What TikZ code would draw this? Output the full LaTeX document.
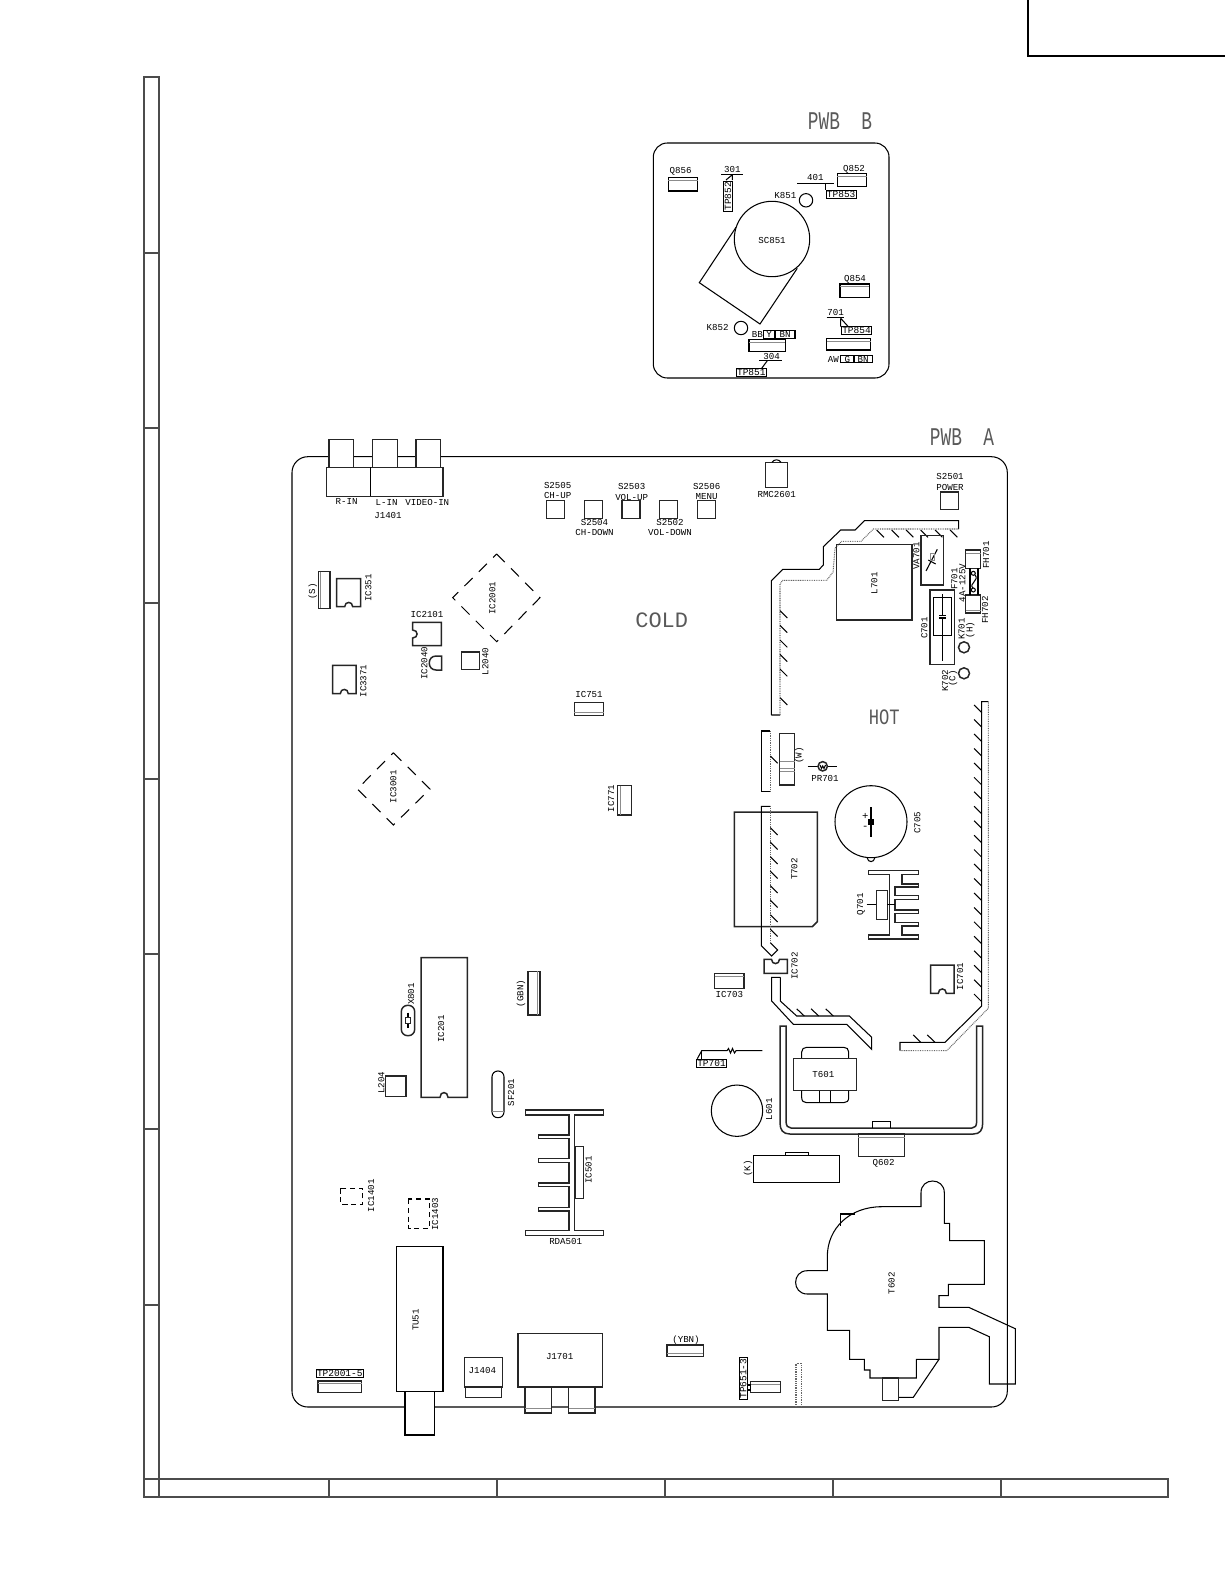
\documentclass[tikz,border=0pt]{standalone}
\usepackage{fontspec}
\setmonofont{Liberation Mono}
\tikzset{
	sheetline/.style={line width=0.65pt,black!70},
	part/.style={line width=0.6pt,black},
	heavy/.style={line width=0.85pt,black!85},
	trace/.style={line width=0.6pt,black},
	inner/.style={line width=0.4pt,black!45},
	dots/.style={line width=0.6pt,black!60,dash pattern=on 0.5pt off 0.5pt},
	hole/.style={line width=0.6pt,black,dash pattern=on 6.5pt off 5pt},
	smallhole/.style={line width=0.6pt,black,dash pattern=on 3pt off 2pt},
	lbl/.style={inner sep=0pt,font=\ttfamily\fontsize{5.2}{6}\selectfont},
	vlbl/.style={lbl,rotate=90},
	tag/.style={draw,line width=0.6pt,inner sep=0.5pt,font=\ttfamily\fontsize{5.4}{6}\selectfont},
	area/.style={inner sep=0pt,black!65,font=\ttfamily\fontsize{12.5}{13}\selectfont},
	title/.style={inner sep=0pt,black!65,font=\ttfamily\fontsize{14.5}{15}\selectfont},
	sign/.style={inner sep=0pt,font=\ttfamily\fontsize{6}{6}\selectfont}
}
\begin{document}
\begin{tikzpicture}[x=0.02cm,y=-0.02cm]
	\useasboundingbox (0,0) rectangle (1225,1585);
	% sheet frame
	\draw[line width=1pt] (1028,0) -- (1028,56) -- (1225,56);
	\draw[sheetline] (144,77) -- (159,77) -- (159,1497) -- (144,1497) -- cycle;
	\draw[sheetline] (144,1479) -- (1168,1479) -- (1168,1497) -- (159,1497);
	\foreach \y in {253,428,603,779,954,1129,1305} \draw[sheetline] (144,\y) -- (159,\y);
	\foreach \x in {329,497,665,833,1001} \draw[sheetline] (\x,1479) -- (\x,1496);

	% PWB B
	\node[title] (pwbb) at (840,121) {\scalebox{.7}[1]{PWB~~B}};
	\draw[part,rounded corners=8pt] (653.3,143) rectangle (889,378);
	\node[lbl] (q856) at (680.7,171.7) {Q856};
	\draw[part] (668.3,177.7) rectangle (697.7,191);
	\draw[inner] (668.3,180) -- (697.7,180);
	\node[lbl] (l301) at (732.3,169) {301};
	\draw[part] (721,174.7) -- (743.3,174.7);
	\draw[part] (732.3,174.7) -- (726,180) (732.3,174.7) -- (732.3,180);
	\node[tag,rotate=90] (tp852) at (728,196.3) {TP852};
	\node[lbl] (l401) at (815.3,177.3) {401};
	\draw[part] (797.3,183.3) -- (834,183.3);
	\draw[part] (825.7,183.3) -- (825.7,190);
	\node[tag] (tp853) at (841.2,194.5) {TP853};
	\node[lbl] (q852) at (854,169) {Q852};
	\draw[part] (837.3,173.3) rectangle (866.7,186.7);
	\draw[inner] (837.3,176) -- (866.7,176);
	\node[lbl] (k851) at (785.3,195.7) {K851};
	\draw[part] (806,200.3) circle[radius=6.7];
	\draw[part] (736,227.3) -- (699.3,282.7) -- (760,324) -- (797.3,268.3);
	\draw[part,fill=white] (772,239) circle[radius=37.7];
	\node[lbl] (sc851) at (772,240) {SC851};
	\node[lbl] (k852) at (717.7,327.3) {K852};
	\draw[part] (741,328) circle[radius=6.7];
	\node[lbl] (bb) at (757.3,334.3) {BB};
	\draw[part] (763.3,330.7) rectangle (775,338.3) (775,330.7) rectangle (795,338.3);
	\node[lbl] (by) at (769.2,334.5) {Y};
	\node[lbl] (bbn) at (785,334.5) {BN};
	\draw[part] (749,339.3) rectangle (785.3,351.3);
	\draw[inner] (749,342) -- (785.3,342);
	\node[lbl] (l304) at (771.7,356.7) {304};
	\draw[part] (759.3,360.7) -- (781.7,360.7);
	\draw[part] (767.3,360.7) -- (761.7,368.3);
	\node[tag] (tp851) at (751.3,372.5) {TP851};
	\node[lbl] (q854) at (855,279.3) {Q854};
	\draw[part] (840,284) rectangle (869.3,297.3);
	\draw[inner] (840,286) -- (869.3,286);
	\node[lbl] (l701) at (835.7,312) {701};
	\draw[part] (826.7,317.3) -- (844,317.3);
	\draw[part] (840.7,318.3) -- (840.7,326.7) (840.7,318.3) -- (848.3,326.7);
	\node[tag] (tp854) at (856.5,330.5) {TP854};
	\draw[part] (826.7,338.7) rectangle (870.7,350);
	\draw[inner] (826.7,341) -- (870.7,341);
	\node[lbl] (aw) at (833.3,359) {AW};
	\draw[part] (840.7,355.3) rectangle (854,362.7) (854,355.3) rectangle (872.3,362.7);
	\node[lbl] (ag) at (847.3,359) {G};
	\node[lbl] (abn) at (863,359) {BN};

	% PWB A
	\node[title] (pwba) at (962,437) {\scalebox{.7}[1]{PWB~~A}};
	\draw[part,rounded corners=9pt] (292,456.7) rectangle (1007.3,1407);
	% J1401
	\draw[heavy,fill=white] (329,439.3) rectangle (353.3,467.3) (372.3,439.3) rectangle (397.3,467.3) (416,439.3) rectangle (440.7,467.3);
	\draw[heavy,fill=white] (326.7,467.3) rectangle (443,496.3);
	\draw[part] (370.3,467.3) -- (370.3,496.3);
	\node[lbl] (rin) at (346.7,501.7) {R-IN};
	\node[lbl] (lin) at (386.7,502) {L-IN};
	\node[lbl] (vin) at (427.3,502) {VIDEO-IN};
	\node[lbl] (j1401) at (388,515.3) {J1401};
	% switches
	\foreach \x in {546.7,584.3,622,659.7,697.3} \draw[heavy] (\x,500.7) rectangle +(18,17.6);
	\node[lbl,align=center] (s2505) at (557.7,490.7) {S2505\\CH-UP};
	\node[lbl,align=center] (s2504) at (594.5,527.3) {S2504\\CH-DOWN};
	\node[lbl,align=center] (s2503) at (631.7,492) {S2503\\VOL-UP};
	\node[lbl,align=center] (s2502) at (670,527.3) {S2502\\VOL-DOWN};
	\node[lbl,align=center] (s2506) at (706.7,491.5) {S2506\\MENU};
	% left column parts
	\draw[hole] (496.7,554) -- (540,597.7) -- (496.7,641.7) -- (452.7,597.7) -- cycle;
	\node[vlbl] (ic2001) at (492.3,598.3) {IC2001};
	\node[vlbl] (ls) at (312.7,591.3) {(S)};
	\draw[heavy] (318.3,571.7) rectangle (330,608.3);
	\draw[inner] (320.7,571.7) -- (320.7,608.3);
	\draw[heavy] (336.7,578.7) -- (360.7,578.7) -- (360.7,606.7) -- (352.7,606.7) .. controls (352.7,601) and (344.7,601) .. (344.7,606.7) -- (336.7,606.7) -- cycle;
	\node[vlbl] (ic351) at (368.3,588) {IC351};
	\node[lbl] (ic2101) at (427,614.7) {IC2101};
	\draw[heavy] (412.7,622.3) -- (441.3,622.3) -- (441.3,645.7) -- (412.7,645.7) -- (412.7,638) .. controls (418.5,638) and (418.5,630) .. (412.7,630) -- cycle;
	\node[vlbl] (ic2040) at (424.3,663.3) {IC2040};
	\draw[heavy] (441.7,656) -- (436,656) .. controls (427,656) and (427,670) .. (436,670) -- (441.7,670) -- cycle;
	\draw[heavy] (461.3,652) rectangle (479.3,669.7);
	\node[vlbl] (l2040) at (485.3,661.3) {L2040};
	\draw[heavy] (332.7,665.3) -- (356,665.3) -- (356,693.7) -- (348.3,693.7) .. controls (348.3,688) and (340.3,688) .. (340.3,693.7) -- (332.7,693.7) -- cycle;
	\node[vlbl] (ic3371) at (363.3,681) {IC3371};
	\node[area] (cold) at (661.7,620) {COLD};
	\node[lbl] (ic751) at (589,694) {IC751};
	\draw[heavy] (574.3,702.7) rectangle (603.7,715.7);
	\draw[inner] (574.3,712) -- (603.7,712);
	\draw[hole] (393.3,752.7) -- (430,789) -- (393.3,825) -- (357.3,789) -- cycle;
	\node[vlbl] (ic3001) at (393.3,786.7) {IC3001};
	\draw[heavy] (617.7,785.7) rectangle (631.3,815);
	\draw[inner] (620,785.7) -- (620,815);
	\node[vlbl] (ic771) at (611,798.3) {IC771};

	% upper trace
	\draw[trace] (771.3,715) -- (771.3,580.7) -- (782.7,569.3) -- (819.3,569.3) -- (823.3,565) -- (823.3,546.7) -- (840.7,530) -- (855,530) -- (864.3,520.7) -- (958.7,520.7) -- (958.7,529) (780,715) -- (771.3,715);
	\draw[dots] (780,715) -- (780,584) -- (782.7,580.3) -- (826.7,580.3) -- (833,572) -- (835,548) -- (841.7,541.3) -- (861,541.3) -- (873.3,529) -- (958.7,529);
	\foreach \y in {610.7,625.3,640,654.3,669,697.7} \draw[part] (780,\y) -- +(7.3,7.3);
	\foreach \x in {876.7,891.7,906,920.7,935,950} \draw[part] (\x,530) -- +(7.3,7.3);
	\node[lbl] (rmc2601) at (776.7,494.3) {RMC2601};
	\draw[heavy] (765.7,462.3) rectangle (787.3,487.3);
	\draw[part] (772,462.3) .. controls (774,459) and (779,459) .. (781,462.3);
	\node[lbl,align=center] (s2501) at (950,482) {S2501\\POWER};
	\draw[heavy] (940.7,492) rectangle (958.7,509.7);
	\draw[heavy] (836.7,544.7) rectangle (912,620);
	\node[vlbl] (l701p) at (874.3,583.3) {L701};
	\draw[heavy] (921,535.3) rectangle (943.3,585);
	\draw[part] (926,571) -- (937.3,549.3);
	\draw[part] (928.3,560) -- (935.7,564);
	\draw[inner] (930,553) rectangle (934,560);
	\node[vlbl] (va701) at (916.3,556) {VA701};
	% fuse
	\draw[heavy] (965.7,550) rectangle (980.7,568.3) (965.7,595) rectangle (980.7,613);
	\draw[inner] (965.7,553) -- (980.7,553) (965.7,610) -- (980.7,610);
	\draw[part] (970,568.3) -- (970,595) (978,568.3) -- (978,595);
	\draw[part] (973.3,573.3) circle[radius=2];
	\draw[part] (973.3,590) circle[radius=2];
	\draw[part] (975,575) .. controls (980,580) and (968,584) .. (973,588);
	\node[vlbl] (fh701) at (986,555) {FH701};
	\node[vlbl] (fh702) at (985,610) {FH702};
	\node[vlbl] (f701) at (954.3,579) {F701};
	\node[vlbl] (fuse) at (962.3,583) {4A-125V};
	\draw[heavy] (930,590) rectangle (954.3,664.3);
	\draw[part] (933.3,597.7) rectangle (951.3,635.7);
	\draw[part] (942.3,594) -- (942.3,615.5) (942.3,618) -- (942.3,660.7);
	\draw[part] (939,615.5) -- (945.5,615.5) (939,618) -- (945.5,618);
	\node[vlbl] (c701) at (924.3,628) {C701};
	\node[vlbl] (k701) at (961.7,629) {K701};
	\node[vlbl] (k701h) at (970.3,630) {(H)};
	\draw[heavy] (964,647.3) circle[radius=5.5];
	\draw[heavy] (964,673.3) circle[radius=5.5];
	\node[vlbl] (k702) at (945,680.7) {K702};
	\node[vlbl] (k702c) at (953,678.3) {(C)};
	\node[area] (hot) at (884.3,717.7) {\scalebox{.78}[1]{HOT}};

	% right trace
	\draw[trace] (988.3,701.7) -- (981.7,701.7) -- (981.7,1006) -- (945,1042.3) -- (900,1042.3) -- (900,1050.7);
	\draw[dots] (988.3,701.7) -- (988.3,1008.3) -- (946.7,1050.7) -- (900,1050.7);
	\foreach \n in {0,...,20} \draw[part] (981.7,712.7+\n*14.45) -- +(-7.6,-7.6);
	\draw[part] (920.7,1042.3) -- +(-7.4,-7.4) (935,1042.3) -- +(-7.7,-7.4);

	% middle parts
	\draw[trace] (770.3,731) -- (761.3,731) -- (761.3,791.3) -- (770.3,791.3);
	\draw[dots] (770.3,731) -- (770.3,791.3);
	\draw[part] (770.3,756) -- +(7.3,7.3);
	\draw[heavy] (779.7,733.3) rectangle (794.7,785);
	\draw[inner] (779.7,761.3) -- (794.7,761.3) (779.7,768.3) -- (794.7,768.3) (779.7,771.3) -- (794.7,771.3);
	\node[vlbl] (lw) at (799.3,755.7) {(W)};
	\draw[part] (807.7,766.3) -- (837.3,766.3);
	\draw[heavy,fill=white] (822.7,766.3) circle[radius=4.7];
	\draw[part] (820,765) -- (821.5,768.5) -- (822.7,766) -- (824,768.5) -- (825.5,765);
	\node[lbl] (pr701) at (825,778.3) {PR701};
	\draw[part] (871,821.7) circle[radius=36];
	\draw[part] (867,857.5) .. controls (868,863) and (874,863) .. (875,857.5);
	\draw[part] (871,807.3) -- (871,836.7);
	\draw[line width=1.2pt] (869.5,820.5) rectangle (872.5,823.5);
	\node[sign] (cplus) at (865.3,816.5) {+};
	\node[sign] (cminus) at (865.3,827.5) {-};
	\node[vlbl] (c705) at (917.3,822.7) {C705};
	\draw[heavy] (734.3,812) -- (817.3,812) -- (817.3,921.7) -- (812.3,926.7) -- (734.3,926.7) -- cycle;
	\node[vlbl] (t702) at (794.3,869) {T702};
	\draw[trace] (770.3,806.3) -- (761.3,806.3) -- (761.3,945.7) -- (771.7,956) -- (777.7,950) -- (770.3,942.7);
	\draw[dots] (770.3,806.3) -- (770.3,942.7);
	\foreach \n in {0,...,7} \draw[part] (770.3,827.7+\n*14.5) -- +(7.3,7.3);
	\draw[heavy] (868.7,870.7) -- (918.7,870.7) -- (918.7,874.3) -- (902,874.3) -- (902,884) -- (918.7,884) -- (918.7,887) -- (895,887) -- (895,895.7) -- (918.7,895.7) -- (918.7,899.3) -- (895,899.3) -- (895,910) -- (918.7,910) -- (918.7,913.3) -- (895,913.3) -- (895,922.7) -- (918.7,922.7) -- (918.7,926) -- (902,926) -- (902,935) -- (918.7,935) -- (918.7,939) -- (868.7,939) -- (868.7,935) -- (889.3,935) -- (889.3,874.3) -- (868.7,874.3) -- cycle;
	\draw[heavy] (876.3,890.3) rectangle (887.3,919.3);
	\draw[part] (866.7,904.3) -- (876.3,904.3) (887.3,904.3) -- (895,904.3);
	\node[vlbl] (q701) at (861,904.3) {Q701};
	\draw[heavy] (764,959.3) -- (771.5,959.3) .. controls (771.5,965) and (779.5,965) .. (779.5,959.3) -- (787.3,959.3) -- (787.3,973.3) -- (764,973.3) -- cycle;
	\node[vlbl] (ic702) at (794.7,966) {IC702};
	\draw[heavy] (714.7,973.3) rectangle (744,988.3);
	\draw[inner] (714.7,976.7) -- (744,976.7);
	\node[lbl] (ic703) at (729.3,994.3) {IC703};
	\draw[heavy] (930.7,965) -- (954,965) -- (954,993.3) -- (946.3,993.3) .. controls (946.3,987.5) and (938.3,987.5) .. (938.3,993.3) -- (930.7,993.3) -- cycle;
	\node[vlbl] (ic701) at (960,976.7) {IC701};
	\draw[trace] (780.3,977.3) -- (771.7,977.3) -- (771.7,1001) -- (793.3,1024.3) -- (846.7,1024.3) -- (871.7,1049.3) -- (871.7,1037.3) -- (849.3,1016) -- (796.7,1016) -- (780.3,1001) -- (780.3,977.3);
	\foreach \x in {804.3,818.7,833.3} \draw[part] (\x,1016) -- +(-7.6,-7.2);

	% power section
	\draw[heavy] (780,1026) -- (780,1123) .. controls (780,1130) and (783,1134) .. (790,1134) -- (973.3,1134) .. controls (980,1134) and (982.7,1130) .. (982.7,1123) -- (982.7,1026) -- (976.7,1026) -- (976.7,1121) .. controls (976.7,1126) and (975,1128) .. (972,1128) -- (791,1128) .. controls (788,1128) and (786,1126) .. (786,1121) -- (786,1026) -- cycle;
	\draw[part] (872.7,1128) -- (872.7,1121.7) -- (890.7,1121.7) -- (890.7,1128);
	\draw[heavy] (858.3,1134) rectangle (904.7,1156.7);
	\draw[inner] (858.3,1137.3) -- (904.7,1137.3);
	\node[lbl] (q602) at (883.7,1163) {Q602};
	\draw[part] (801.7,1058.7) -- (801.7,1052) .. controls (801.7,1049) and (803.7,1047.3) .. (806.7,1047.3) -- (843.7,1047.3) .. controls (846.7,1047.3) and (848.7,1049) .. (848.7,1052) -- (848.7,1058.7);
	\draw[heavy] (793.7,1058.7) rectangle (856.3,1090.7);
	\draw[part] (801.7,1090.7) -- (801.7,1097.7) .. controls (801.7,1101) and (803.7,1102.7) .. (806.7,1102.7) -- (843.7,1102.7) .. controls (846.7,1102.7) and (848.7,1101) .. (848.7,1097.7) -- (848.7,1090.7);
	\draw[part] (819.3,1090.7) -- (819.3,1102.7) (830.7,1090.7) -- (830.7,1102.7);
	\node[lbl] (t601) at (823.3,1074.3) {T601};
	\node[tag] (tp701) at (711.5,1063.2) {TP701};
	\draw[part] (697.3,1058.7) -- (701.7,1050.7) -- (727,1050.7) -- (728.5,1048.5) -- (730.5,1053) -- (732.5,1048.5) -- (734.5,1053) -- (736,1050.7) -- (762.3,1050.7);
	\draw[part] (701.7,1050.7) -- (701.7,1058.7);
	\draw[part] (737,1110.7) circle[radius=25.7];
	\node[vlbl] (l601) at (769,1109.3) {L601};
	\draw[part] (785.3,1155.3) -- (785.3,1152.7) -- (808.7,1152.7) -- (808.7,1155.3);
	\draw[part] (753.7,1155.3) rectangle (839.3,1182.3);
	\node[vlbl] (lk) at (748,1168.3) {(K)};

	% T602
	\draw[part] (921,1206.7) -- (921,1192.7) .. controls (921,1177.1) and (944.3,1177.1) .. (944.3,1192.7) -- (944.3,1223.3) -- (949.7,1223.3) -- (949.7,1240.7) -- (984.3,1240.7) -- (984.3,1284.3) -- (948.3,1284.3) -- (948.3,1295.7) -- (939,1295.7) -- (939,1307.3) -- (968.7,1307.3) -- (1015.3,1328.7) -- (1015.3,1384) -- (989.3,1384) -- (989.3,1336.7) -- (968.7,1327.3) -- (939,1327.3) -- (939,1359.3) -- (916.3,1359.3) -- (916.3,1378) -- (870,1378) -- (870,1370) -- (864.3,1370) -- (864.3,1359.3) -- (849.7,1359.3) -- (849.7,1330.3) -- (827.3,1330.3) -- (827.3,1294) -- (807.3,1294) .. controls (791.7,1294) and (791.7,1270.7) .. (807.3,1270.7) -- (827.3,1270.7) -- (827.3,1256.7) .. controls (827.3,1228) and (850,1206.7) .. (881.7,1206.7) -- cycle;
	\draw[part] (840.7,1226) -- (840.7,1214) -- (855,1214);
	\draw[part] (939,1359.3) -- (913.3,1397.3) -- (898.3,1397.3);
	\draw[heavy] (882.3,1378) rectangle (898.3,1400.7);
	\node[vlbl] (t602) at (891.7,1283.3) {T602};
	\node[tag,rotate=90] (tp6513) at (743.2,1378.7) {TP651-3};
	\draw[heavy] (750.7,1381.3) rectangle (780.3,1392.7);
	\draw[inner] (750.7,1384) -- (780.3,1384);
	\draw[part] (747.7,1385) rectangle (750.7,1390);
	\draw[dots] (796,1406.7) -- (796,1363.3) -- (801.7,1363.3) -- (801.7,1406.7);

	% lower left
	\draw[heavy] (421,957.7) -- (467.3,957.7) -- (467.3,1097.3) -- (448,1097.3) .. controls (448,1091) and (440,1091) .. (440,1097.3) -- (421,1097.3) -- cycle;
	\node[vlbl] (ic201) at (441,1029) {IC201};
	\draw[heavy,rounded corners=3.6pt] (401.3,1005.3) rectangle (414.7,1035.7);
	\draw[part] (408,1012.7) -- (408,1028.3);
	\draw[heavy,fill=white] (405.7,1017.3) rectangle (410.7,1023.3);
	\node[vlbl] (x801) at (411,994) {X801};
	\draw[heavy] (385.3,1076) rectangle (406,1096.7);
	\node[vlbl] (l204) at (381.3,1082.7) {L204};
	\draw[heavy] (528,971.3) rectangle (540,1015);
	\draw[inner] (537.3,971.3) -- (537.3,1015);
	\node[vlbl] (lgbn) at (521,993.3) {(GBN)};
	\draw[part,rounded corners=3.3pt] (492,1071) rectangle (504,1117.7);
	\draw[inner] (492,1111.7) -- (504,1111.7);
	\node[vlbl] (sf201) at (511,1092.3) {SF201};
	\draw[heavy] (525.3,1110) -- (603.7,1110) -- (603.7,1115) -- (574.3,1115) -- (574.3,1230.3) -- (603.7,1230.3) -- (603.7,1235.3) -- (525.3,1235.3) -- (525.3,1230.3) -- (569,1230.3) -- (569,1211) -- (538.3,1211) -- (538.3,1207.3) -- (569,1207.3) -- (569,1186.7) -- (538.3,1186.7) -- (538.3,1183) -- (569,1183) -- (569,1162.3) -- (538.3,1162.3) -- (538.3,1158.3) -- (569,1158.3) -- (569,1138.3) -- (538.3,1138.3) -- (538.3,1135) -- (569,1135) -- (569,1115) -- (525.3,1115) -- cycle;
	\draw[heavy] (575,1146.7) rectangle (583.3,1198.7);
	\node[vlbl] (ic501) at (588.7,1170) {IC501};
	\node[lbl] (rda501) at (565.7,1241) {RDA501};
	\draw[smallhole] (340.7,1188.3) rectangle (362.7,1204.3);
	\node[vlbl] (ic1401) at (371,1195.7) {IC1401};
	\draw[smallhole] (408.3,1199) rectangle (429.3,1228.3);
	\node[vlbl] (ic1403) at (435,1214.3) {IC1403};
	\draw[part,fill=white] (405,1391.3) rectangle (434.3,1435);
	\draw[part] (396.7,1246.3) rectangle (443,1391.3);
	\node[vlbl] (tu51) at (415.7,1320) {TU51};
	\draw[heavy] (465.3,1387) rectangle (501.3,1397.3);
	\draw[heavy] (464.3,1357.7) rectangle (502.3,1387);
	\node[lbl] (j1404) at (482.3,1370.7) {J1404};
	\draw[heavy,fill=white] (525,1387) rectangle (551.3,1413) (568.7,1387) rectangle (595,1413);
	\draw[inner] (525,1408) -- (551.3,1408) (568.7,1408) -- (595,1408);
	\draw[heavy] (518,1333.3) rectangle (602.3,1387);
	\node[lbl] (j1701) at (559.7,1356) {J1701};
	\node[lbl] (lybn) at (686,1340.3) {(YBN)};
	\draw[heavy] (667,1345) rectangle (703.3,1356.7);
	\draw[inner] (667,1353.3) -- (703.3,1353.3);
	\node[tag] (tp2001) at (339.8,1373.2) {TP2001-5};
	\draw[heavy] (318,1381) rectangle (361.7,1392.7);
	\draw[inner] (318,1383.3) -- (361.7,1383.3);
\end{tikzpicture}
\end{document}
